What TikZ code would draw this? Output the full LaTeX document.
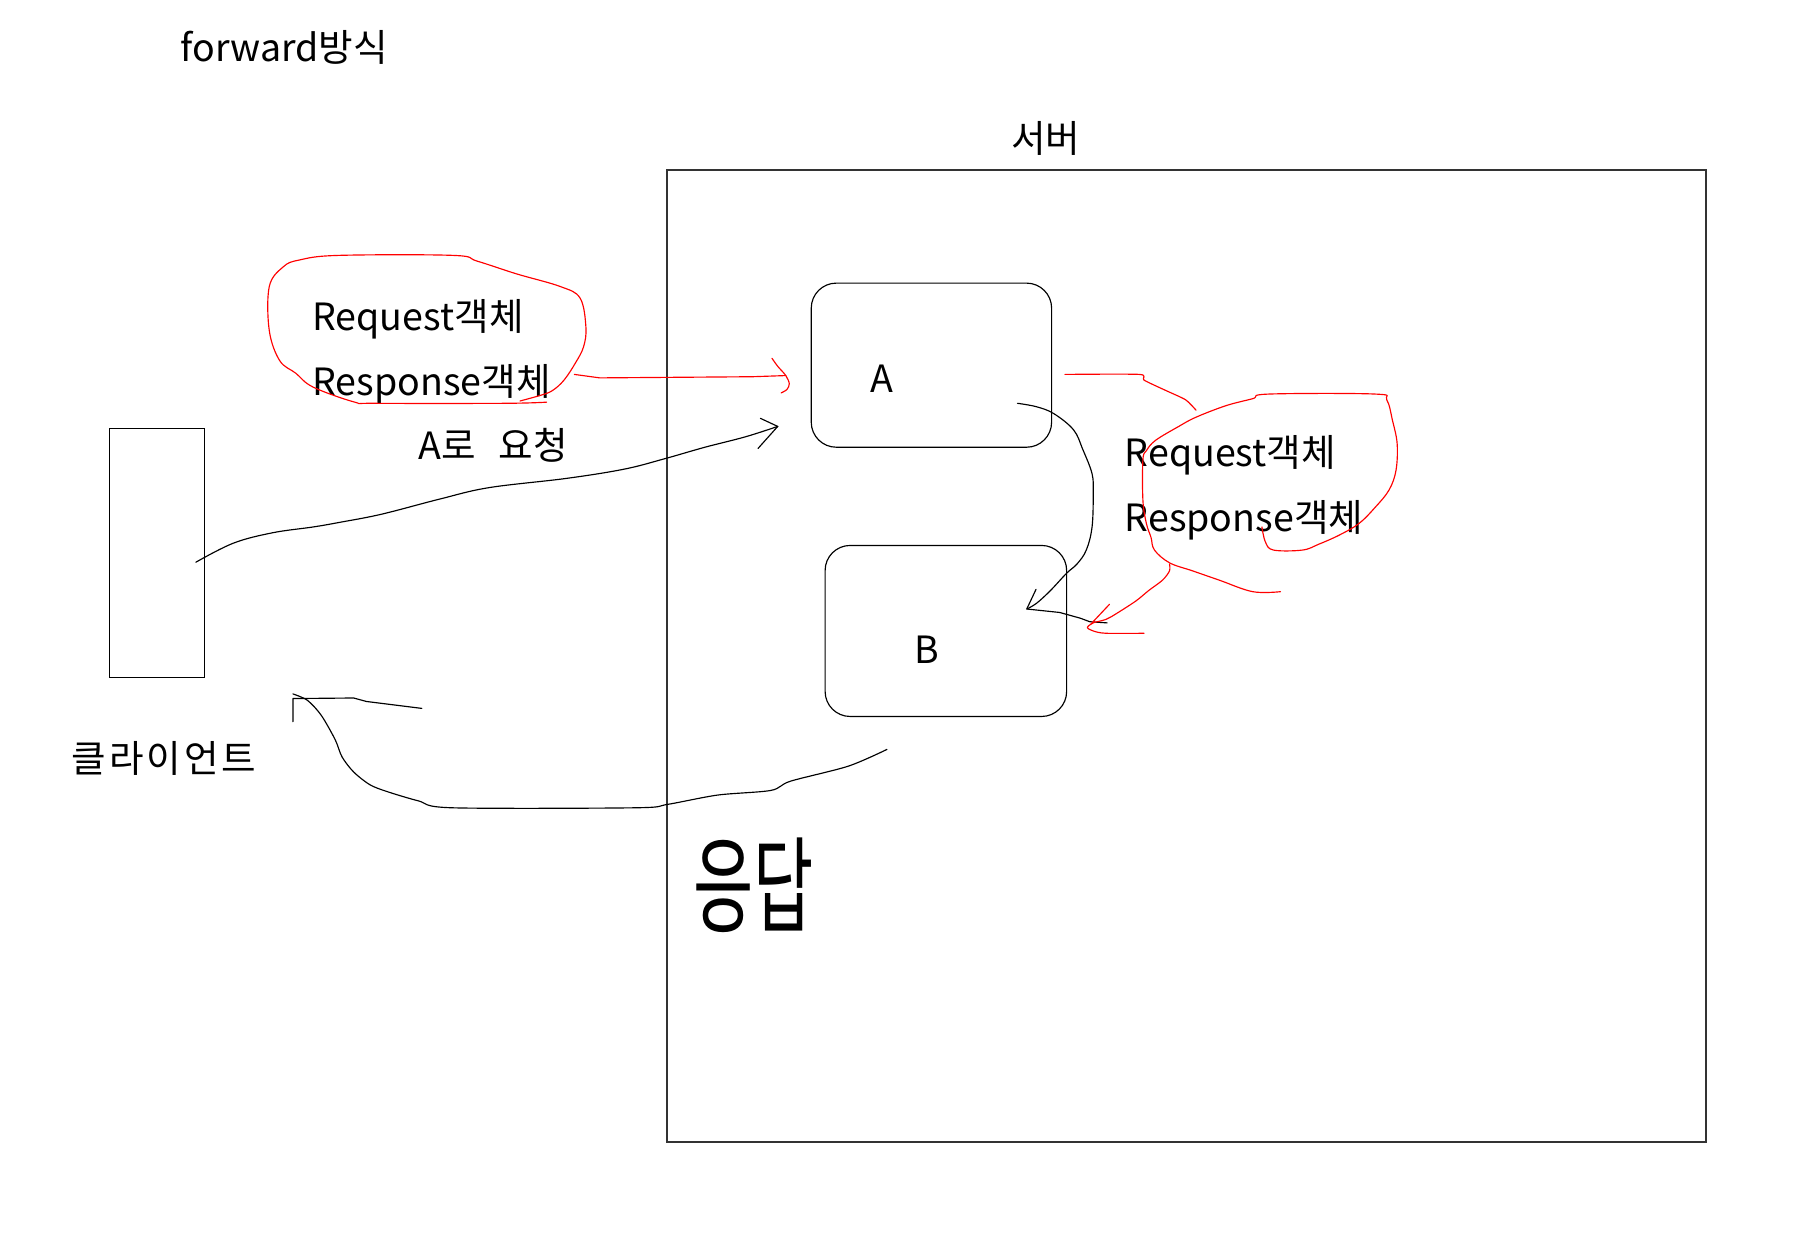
\documentclass[tikz,border=0pt]{standalone}
\usepackage{fontspec}
\setmainfont{Noto Sans CJK KR}
\usetikzlibrary{fit}

\begin{document}
\begin{tikzpicture}[x=0.6pt,y=-0.6pt,
  lbl/.style={inner sep=0pt,font=\fontsize{19.5}{23}\selectfont},
  box/.style={draw,inner sep=0pt,line width=0.6pt},
  pen/.style={line width=0.6pt,line join=round,line cap=round},
  redpen/.style={pen,red}]
  \useasboundingbox (0,0) rectangle (1568,1085);
  \node[lbl,anchor=base west] (title) at (156,53) {forward방식};
  \node[box,draw=black!80,line width=0.9pt,fit={(577,147)(1476,988)}] (server) {};
  \node[lbl] (serverlbl) at (905,120) {서버};
  \node[box,rounded corners=13pt,fit={(702,245)(910,387)}] (boxA) {};
  \node[box,rounded corners=13pt,fit={(714,472)(923,620)}] (boxB) {};
  \node[box,fit={(95,371)(177,586)}] (client) {};
  \node[lbl] (lblA) at (763,328) {A};
  \node[lbl] (lblB) at (802,562) {B};
  \node[lbl] (clientlbl) at (142,656) {클\kern1.5pt 라\kern1.5pt 이\kern1.5pt 언\kern1.5pt 트};
  \node[lbl,anchor=base west] (reqL) at (270,286) {Request객체};
  \node[lbl,anchor=base west] (resL) at (270,342) {Response객체};
  \node[lbl,anchor=base west] (askA) at (362,398) {A로\hspace{0.6em}요청};
  \node[lbl,anchor=base west] (reqR) at (973,404) {Request객체};
  \node[lbl,anchor=base west] (resR) at (973,460) {Response객체};
  \node[inner sep=0pt,font=\fontsize{34}{40}\selectfont] (answer) at (652,766)
    {\scalebox{1}[1.6]{응답}};

  \coordinate (reqstart) at ([shift={(-8,8)}]client.east);
  \coordinate (reqtip) at (673,369);
  \draw[pen] plot[smooth,tension=0.6] coordinates {(reqstart) (202,470) (236,461)
    (271,456) (294,452) (330,445) (380,432) (423,422) (490,414) (540,406) (575,397)
    (610,387) (645,378) (reqtip)};
  \draw[pen] ([shift={(-15,-7)}]reqtip) -- (reqtip) -- ([shift={(-17,19)}]reqtip);

  \coordinate (redstart) at (497,324);
  \coordinate (redtipA) at (680,325);
  \draw[redpen] (redstart) -- (519,327) -- (651,326) -- (redtipA);
  \draw[redpen] plot[smooth] coordinates {(668,310) (673,317) (redtipA) (683,332)
    (681,337) (676,340)};
  \draw[redpen] plot[smooth,tension=0.6] coordinates {(473,348) (437,349) (324,349)
    (307,348) (271,335) (256,323) (242,312) (233,286) (233,248) (245,231) (259,225)
    (293,221) (392,221) (413,226) (447,237) (485,248) (502,258) (507,283) (505,300)
    (498,314) (488,329) (478,338) (468,342) (450,347)};

  \coordinate (fwdstart) at ([shift={(-30,33)}]boxA.east);
  \coordinate (fwdtip) at ([shift={(-35,-19)}]boxB.east);
  \draw[pen] plot[smooth,tension=0.6] coordinates {(fwdstart) (897,352) (912,358)
    (929,372) (937,389) (945,410) (946,427) (945,456) (940,476) (932,488) (923,496)
    (909,511) (897,522) (fwdtip)};
  \draw[pen] ([shift={(8,-17)}]fwdtip) -- (fwdtip) -- (917,530) -- (935,535)
    -- (943,538) -- (958,539);

  \coordinate (redtipB) at (941,543);
  \draw[redpen] plot[smooth,tension=0.4] coordinates {([shift={(11,8)}]boxA.east)
    (986,324) (990,329) (1009,338) (1026,346) (1035,355)};
  \draw[redpen] plot[smooth,tension=0.6] coordinates {(1092,456) (1095,469) (1102,476)
    (1127,476) (1141,471) (1159,463) (1176,453) (1190,439) (1202,424) (1208,407)
    (1209,384) (1205,364) (1200,346) (1190,341) (1098,341) (1084,345) (1061,351)
    (1035,361) (1020,369) (1000,381) (992,390) (989,398) (989,433) (992,453) (996,465)
    (999,476) (1012,487) (1032,494) (1055,502) (1084,512) (1108,512)};
  \draw[redpen] plot[smooth,tension=0.5] coordinates {(1012,488) (1012,494) (1006,502)
    (994,511) (983,520) (966,531) (957,536) (946,539) (redtipB) (946,546) (957,548)
    (990,548)};
  \draw[redpen] ([shift={(3,-3)}]redtipB) -- (960,523);

  \coordinate (resstart) at ([shift={(-51,28)}]boxB.south);
  \coordinate (restip) at ([shift={(76,14)}]client.south east);
  \draw[pen] plot[smooth,tension=0.5] coordinates {(resstart) (734,663) (684,676)
    (667,684) (621,688) (578,696) (550,699) (391,699) (362,693) (335,685) (320,679)
    (306,668) (296,655) (290,640) (278,619) (266,606) (restip)};
  \draw[pen] ([shift={(0,24)}]restip) -- ([shift={(0,4)}]restip) -- (306,604)
    -- (317,607) -- (365,613);
\end{tikzpicture}
\end{document}
